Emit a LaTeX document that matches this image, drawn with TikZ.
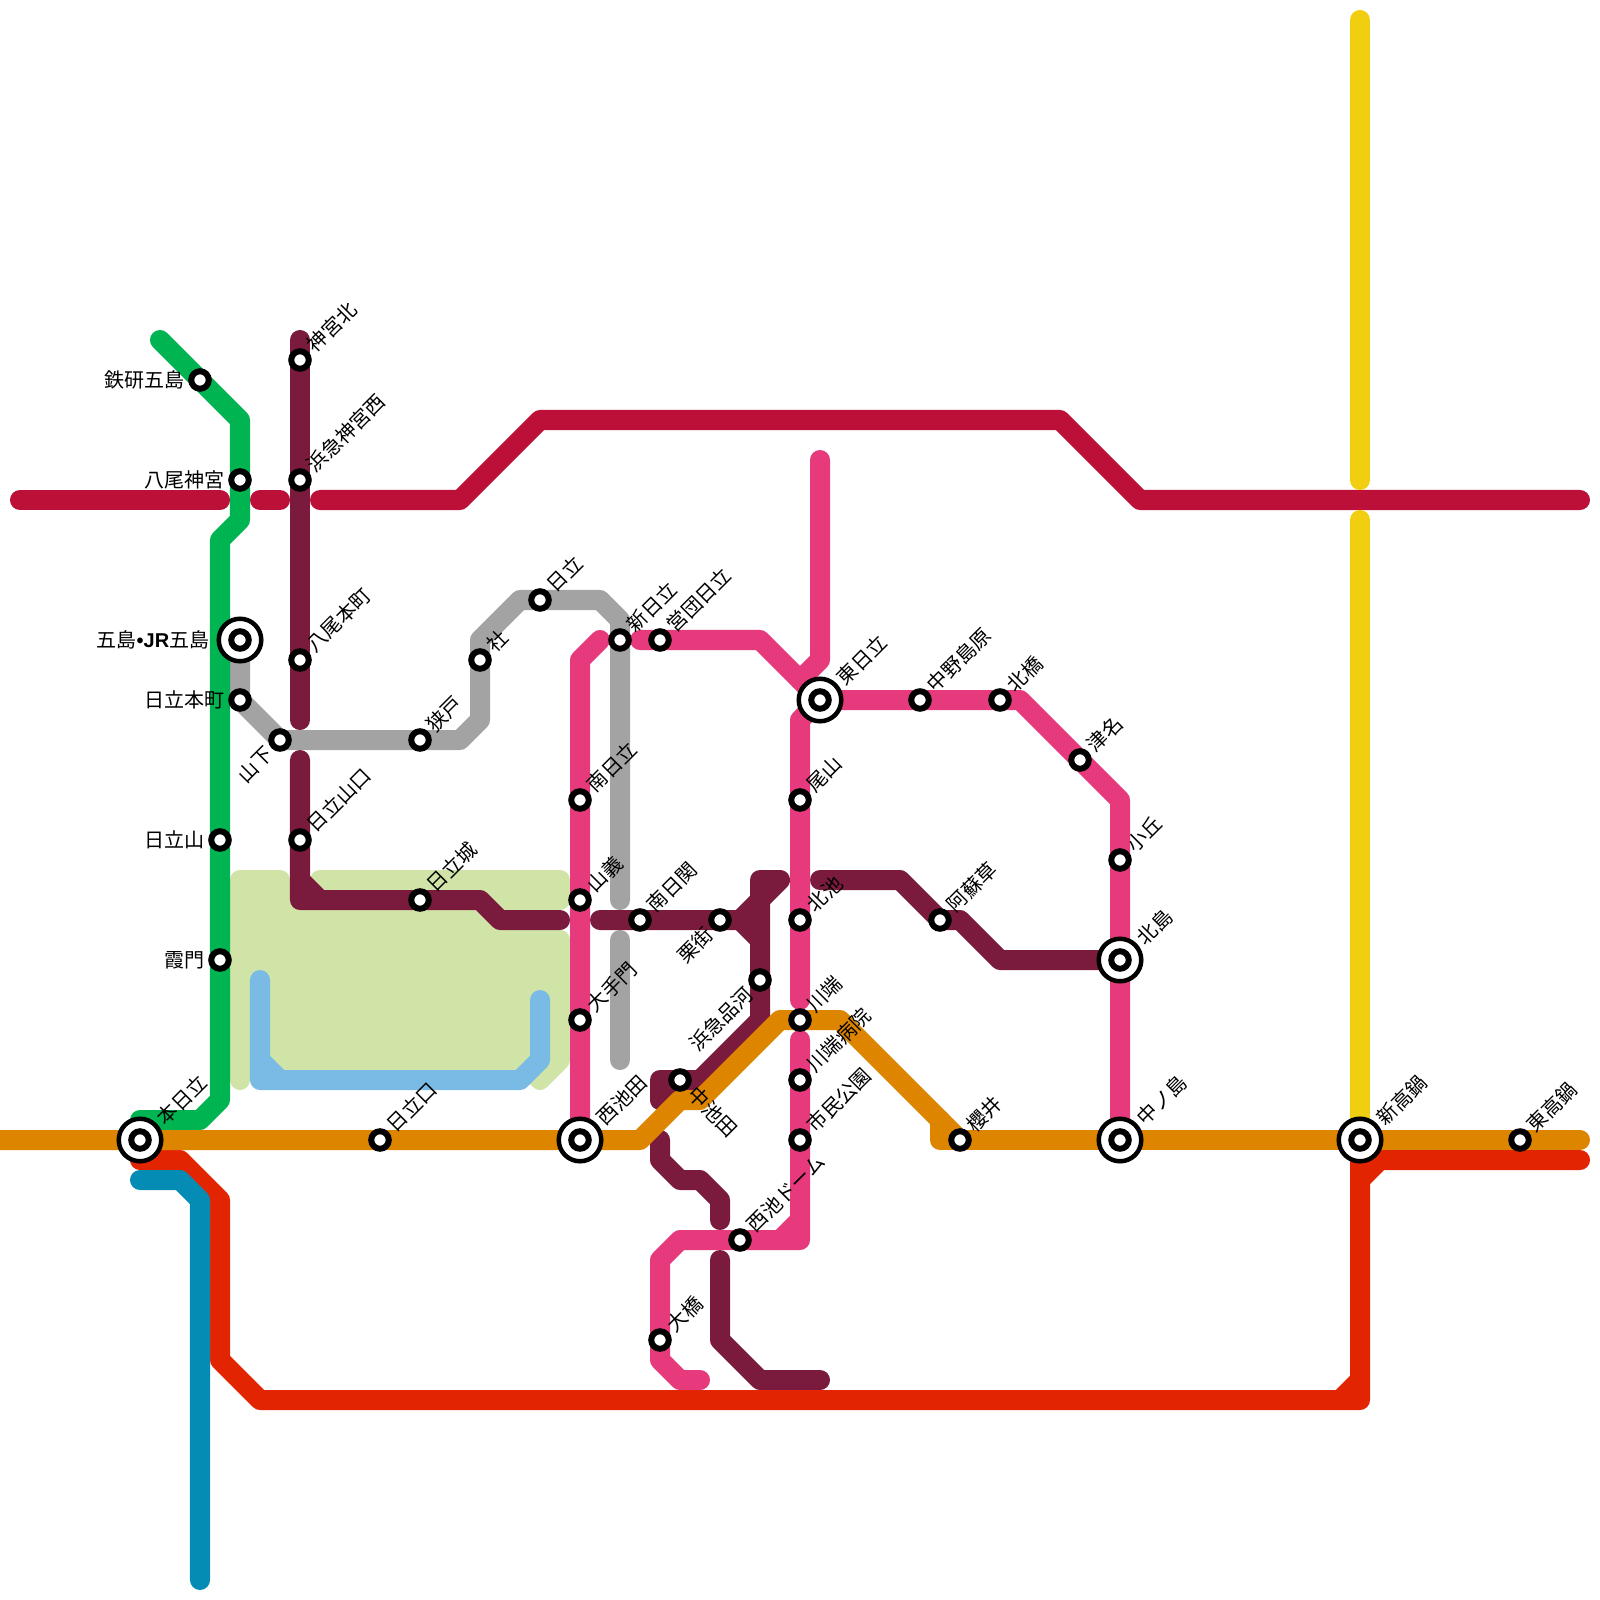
\documentclass[tikz,border=0pt]{standalone}
\usepackage{fontspec}
\usepackage{xcolor}
\usepackage{tikz}
\newfontfamily\jpfont{Noto Sans CJK JP}
\newfontfamily\latfont{Liberation Sans}
\definecolor{lnGreen}{HTML}{00B451}
\definecolor{lnCrimson}{HTML}{BC1038}
\definecolor{lnWine}{HTML}{7A1A3C}
\definecolor{lnGray}{HTML}{A3A3A3}
\definecolor{lnPink}{HTML}{E63A7C}
\definecolor{lnOrange}{HTML}{DE8500}
\definecolor{lnRed}{HTML}{E32400}
\definecolor{lnTeal}{HTML}{058CB5}
\definecolor{lnYellow}{HTML}{F2CE10}
\definecolor{lnSky}{HTML}{7ABBE6}
\definecolor{parkGreen}{HTML}{D0E4A7}

\begin{document}
\begin{tikzpicture}[x=.01cm,y=-.01cm,
  every node/.style={font=\jpfont\fontsize{5.69}{7}\selectfont,text=black,inner sep=0pt},
  line/.style={line width=2mm,line cap=round,line join=round},
  stn/.style={circle,draw=black,fill=white,line width=.6mm,minimum size=1.75mm},
  stnbig/.style={circle,draw=black,fill=white,line width=.45mm,minimum size=4.25mm},
  lblr/.style={shift={(10,-11)},rotate=45,anchor=west},
  lblbig/.style={shift={(20,-18)},rotate=45,anchor=west},
  lblb/.style={shift={(-10,10)},rotate=45,anchor=east},
  lbll/.style={shift={(-15,0)},anchor=east},
  lbld/.style={shift={(11,10)},rotate=-45,anchor=west}]
\useasboundingbox (0,0) rectangle (1600,1600);
% park
\draw[line,draw=parkGreen,fill=parkGreen] (240,880)--(280,880)--(280,920)--(320,920)--(320,880)--(560,880)--(560,900)--(240,900)--cycle;
\draw[line,draw=parkGreen,fill=parkGreen] (240,1080)--(240,900)--(480,920)--(560,940)--(560,1060)--(540,1080)--(520,1060)--(240,1060)--cycle;
% lines
\draw[line,lnSky,fill=none] (260,980)--(260,1080)--(520,1080)--(540,1060)--(540,1000) (260,1060)--(280,1080);
\draw[line,lnGray] (240,640)--(240,700)--(280,740)--(460,740)--(480,720)--(480,640)--(520,600)--(600,600)--(620,620)--(620,900);
\draw[line,lnGray] (620,940)--(620,1060);
\draw[line,lnGreen] (160,340)--(240,420)--(240,520)--(220,540)--(220,1100)--(200,1120)--(140,1120);
\draw[line,lnCrimson] (20,500)--(220,500);
\draw[line,lnCrimson] (260,500)--(280,500);
\draw[line,lnCrimson] (320,500)--(460,500)--(540,420)--(1060,420)--(1140,500)--(1580,500);
\draw[line,lnWine] (300,340)--(300,720);
\draw[line,lnWine] (300,760)--(300,900)--(480,900)--(500,920)--(560,920) (300,880)--(320,900);
\draw[line,lnWine] (600,920)--(740,920)--(760,940)--(760,880)--(780,880)--(740,920);
\draw[line,lnWine] (760,940)--(760,1020)--(700,1080)--(660,1080)--(660,1100)--(680,1080);
\draw[line,lnWine] (660,1140)--(660,1160)--(680,1180)--(700,1180)--(720,1200)--(720,1220);
\draw[line,lnWine] (720,1260)--(720,1340)--(760,1380)--(820,1380);
\draw[line,lnWine] (820,880)--(900,880)--(940,920)--(960,920)--(1000,960)--(1120,960);
\draw[line,lnPink] (580,1140)--(580,660)--(600,640);
\draw[line,lnPink] (640,640)--(760,640)--(820,700)--(1020,700)--(1120,800)--(1120,1140);
\draw[line,lnPink] (820,460)--(820,660)--(800,680);
\draw[line,lnPink] (800,1000)--(800,720)--(820,700);
\draw[line,lnPink] (800,1040)--(800,1240)--(680,1240)--(660,1260)--(660,1360)--(680,1380)--(700,1380) (780,1240)--(800,1220);
\draw[line,lnYellow] (1360,20)--(1360,480);
\draw[line,lnYellow] (1360,520)--(1360,1140);
\draw[line,lnRed] (140,1160)--(180,1160)--(220,1200)--(220,1360)--(260,1400)--(1360,1400)--(1360,1180)--(1380,1160)--(1580,1160) (1340,1400)--(1360,1380) (1360,1160)--(1360,1180);
\draw[line,lnTeal] (140,1180)--(180,1180)--(200,1200)--(200,1580);
\draw[line,lnOrange] (0,1140)--(640,1140)--(680,1100)--(700,1100)--(780,1020)--(840,1020)--(960,1140);
\draw[line,lnOrange] (940,1120)--(940,1140)--(1580,1140);
% stations
\node[stn] (jingukita) at (300,360) {};
\node[lblr] (jingukitaL) at (jingukita) {神宮北};
\node[stn] (hamajingu) at (300,480) {};
\node[lblr] (hamajinguL) at (hamajingu) {浜急神宮西};
\node[stn] (yaohon) at (300,660) {};
\node[lblr] (yaohonL) at (yaohon) {八尾本町};
\node[stn] (yamaguchi) at (300,840) {};
\node[lblr] (yamaguchiL) at (yamaguchi) {日立山口};
\node[stn] (tekken) at (200,380) {};
\node[lbll] (tekkenL) at (tekken) {鉄研五島};
\node[stn] (yaojingu) at (240,480) {};
\node[lbll] (yaojinguL) at (yaojingu) {八尾神宮};
\node[stnbig] (goto) at (240,640) {};
\node[stn] (gotoIn) at (goto) {};
\node[lbll,shift={(-15,0)}] (gotoL) at (goto) {五島{\latfont\bfseries •JR}五島};
\node[stn] (hitahon) at (240,700) {};
\node[lbll] (hitahonL) at (hitahon) {日立本町};
\node[stn] (yamashita) at (280,740) {};
\node[lblb] (yamashitaL) at (yamashita) {山下};
\node[stn] (sedo) at (420,740) {};
\node[lblr] (sedoL) at (sedo) {狭戸};
\node[stn] (yashiro) at (480,660) {};
\node[lblr] (yashiroL) at (yashiro) {社};
\node[stn] (hitachi) at (540,600) {};
\node[lblr] (hitachiL) at (hitachi) {日立};
\node[stn] (shinhita) at (620,640) {};
\node[lblr] (shinhitaL) at (shinhita) {新日立};
\node[stn] (eidan) at (660,640) {};
\node[lblr] (eidanL) at (eidan) {営団日立};
\node[stn] (minamihita) at (580,800) {};
\node[lblr] (minamihitaL) at (minamihita) {南日立};
\node[stn] (yamagi) at (580,900) {};
\node[lblr] (yamagiL) at (yamagi) {山義};
\node[stn] (otemon) at (580,1020) {};
\node[lblr] (otemonL) at (otemon) {大手門};
\node[stnbig] (nishiike) at (580,1140) {};
\node[stn] (nishiikeIn) at (nishiike) {};
\node[lblbig] (nishiikeL) at (nishiike) {西池田};
\node[stn] (hitajo) at (420,900) {};
\node[lblr] (hitajoL) at (hitajo) {日立城};
\node[stn] (hitaguchi) at (380,1140) {};
\node[lblr] (hitaguchiL) at (hitaguchi) {日立口};
\node[stnbig] (honhita) at (140,1140) {};
\node[stn] (honhitaIn) at (honhita) {};
\node[lblbig] (honhitaL) at (honhita) {本日立};
\node[stn] (hitayama) at (220,840) {};
\node[lbll] (hitayamaL) at (hitayama) {日立山};
\node[stn] (kasumi) at (220,960) {};
\node[lbll] (kasumiL) at (kasumi) {霞門};
\node[stn] (minamiseki) at (640,920) {};
\node[lblr] (minamisekiL) at (minamiseki) {南日関};
\node[stn] (kuri) at (720,920) {};
\node[lblb] (kuriL) at (kuri) {栗街};
\node[stn] (shinagawa) at (760,980) {};
\node[lblb] (shinagawaL) at (shinagawa) {浜急品河};
\node[stn] (nakaike) at (680,1080) {};
\node[lbld] (nakaikeL) at (nakaike) {中池田};
\node[stnbig] (higashi) at (820,700) {};
\node[stn] (higashiIn) at (higashi) {};
\node[lblbig] (higashiL) at (higashi) {東日立};
\node[stn] (nakano) at (920,700) {};
\node[lblr] (nakanoL) at (nakano) {中野島原};
\node[stn] (kitabashi) at (1000,700) {};
\node[lblr] (kitabashiL) at (kitabashi) {北橋};
\node[stn] (tsuna) at (1080,760) {};
\node[lblr] (tsunaL) at (tsuna) {津名};
\node[stn] (ooka) at (1120,860) {};
\node[lblr] (ookaL) at (ooka) {小丘};
\node[stnbig] (kitajima) at (1120,960) {};
\node[stn] (kitajimaIn) at (kitajima) {};
\node[lblbig] (kitajimaL) at (kitajima) {北島};
\node[stn] (asokusa) at (940,920) {};
\node[lblr] (asokusaL) at (asokusa) {阿蘇草};
\node[stn] (sakurai) at (960,1140) {};
\node[lblr] (sakuraiL) at (sakurai) {櫻井};
\node[stnbig] (nakanoshima) at (1120,1140) {};
\node[stn] (nakanoshimaIn) at (nakanoshima) {};
\node[lblbig] (nakanoshimaL) at (nakanoshima) {中ノ島};
\node[stnbig] (shintaka) at (1360,1140) {};
\node[stn] (shintakaIn) at (shintaka) {};
\node[lblbig] (shintakaL) at (shintaka) {新高鍋};
\node[stn] (higtaka) at (1520,1140) {};
\node[lblr] (higtakaL) at (higtaka) {東高鍋};
\node[stn] (oyama) at (800,800) {};
\node[lblr] (oyamaL) at (oyama) {尾山};
\node[stn] (kitaike) at (800,920) {};
\node[lblr] (kitaikeL) at (kitaike) {北池};
\node[stn] (kawabata) at (800,1020) {};
\node[lblr] (kawabataL) at (kawabata) {川端};
\node[stn] (byoin) at (800,1080) {};
\node[lblr] (byoinL) at (byoin) {川端病院};
\node[stn] (shimin) at (800,1140) {};
\node[lblr] (shiminL) at (shimin) {市民公園};
\node[stn] (dome) at (740,1240) {};
\node[lblr] (domeL) at (dome) {西池ドーム};
\node[stn] (ohashi) at (660,1340) {};
\node[lblr] (ohashiL) at (ohashi) {大橋};
\end{tikzpicture}
\end{document}
